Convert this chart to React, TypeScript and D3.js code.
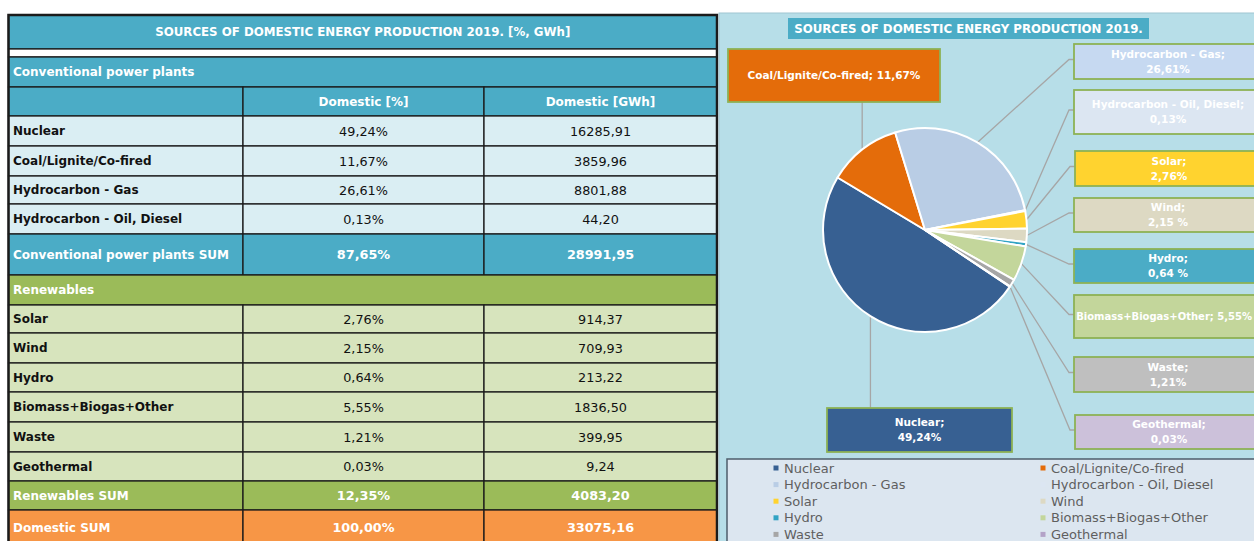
import React from "react";
import * as d3 from "d3";

// ---------------- DATA ----------------
const tableTitle = "SOURCES OF DOMESTIC ENERGY PRODUCTION 2019. [%, GWh]";
const chartTitle = "SOURCES OF DOMESTIC ENERGY PRODUCTION 2019.";
const columnHeaders = ["Domestic [%]", "Domestic [GWh]"];

const conventionalTitle = "Conventional power plants";
const conventionalNames = ["Nuclear", "Coal/Lignite/Co-fired", "Hydrocarbon - Gas", "Hydrocarbon - Oil, Diesel"];
const conventionalPct = [49.24, 11.67, 26.61, 0.13];
const conventionalGWh = [16285.91, 3859.96, 8801.88, 44.2];

const renewableTitle = "Renewables";
const renewableNames = ["Solar", "Wind", "Hydro", "Biomass+Biogas+Other", "Waste", "Geothermal"];
const renewablePct = [2.76, 2.15, 0.64, 5.55, 1.21, 0.03];
const renewableGWh = [914.37, 709.93, 213.22, 1836.5, 399.95, 9.24];

const sumLabels = ["Conventional power plants SUM", "Renewables SUM", "Domestic SUM"];
const sumPct = [87.65, 12.35, 100.0];
const sumGWh = [28991.95, 4083.2, 33075.16];

// pie labels: a space before "%" in some of the original labels
const pctSpaced = [false, false, false, false, false, true, true, false, false, false];
const labelOneLine = [false, true, false, false, false, false, false, true, false, false];

// ---------------- STYLE / LAYOUT ----------------
const FONT = "'DejaVu Sans', Verdana, sans-serif";
const C_BLUE = "#4BACC6";
const C_LBLUE = "#DAEEF3";
const C_GREEN = "#9BBB59";
const C_LGREEN = "#D7E4BD";
const C_ORANGE = "#F79646";
const C_LINE = "#1b1b1b";

const sliceColors = ["#376092", "#E46C0A", "#B9CDE5", "#DCE6F2", "#FFD32F", "#DDD9C3", "#31A3C4", "#C3D69B", "#A6A6A6", "#B3A2C7"];
const boxColors = ["#376092", "#E46C0A", "#C6D9F1", "#DCE6F2", "#FFD32F", "#DDD9C3", "#4BACC6", "#C3D69B", "#BFBFBF", "#CCC1DA"];

const rowHeights = [34, 8, 30, 29, 30, 30, 28, 30, 41, 30, 28, 30, 29, 30, 30, 29, 29, 35];
const TABLE_TOP = 15;
const colX = [8.5, 243, 484, 717];

// label box layout (by slice index)
const labelBoxes = [
  { x: 827, y: 408, w: 185, h: 44 },
  { x: 728, y: 49, w: 212, h: 53 },
  { x: 1074, y: 44, w: 188, h: 35 },
  { x: 1074, y: 90, w: 188, h: 44 },
  { x: 1075, y: 151, w: 188, h: 35 },
  { x: 1074, y: 198, w: 188, h: 34 },
  { x: 1074, y: 249, w: 188, h: 34 },
  { x: 1074, y: 295, w: 188, h: 43 },
  { x: 1074, y: 357, w: 188, h: 35 },
  { x: 1075, y: 415, w: 188, h: 34 },
];

const fmt2 = (v: number) => d3.format(".2f")(v).replace(".", ",");

type Row = {
  kind: "title" | "gap" | "section" | "header" | "item" | "sum";
  label?: string;
  pct?: number;
  gwh?: number;
  fill?: string;
};

export default function App() {
  const rows: Row[] = [
    { kind: "title", label: tableTitle, fill: C_BLUE },
    { kind: "gap", fill: "#ffffff" },
    { kind: "section", label: conventionalTitle, fill: C_BLUE },
    { kind: "header", fill: C_BLUE },
    ...conventionalNames.map((n, i) => ({ kind: "item" as const, label: n, pct: conventionalPct[i], gwh: conventionalGWh[i], fill: C_LBLUE })),
    { kind: "sum", label: sumLabels[0], pct: sumPct[0], gwh: sumGWh[0], fill: C_BLUE },
    { kind: "section", label: renewableTitle, fill: C_GREEN },
    ...renewableNames.map((n, i) => ({ kind: "item" as const, label: n, pct: renewablePct[i], gwh: renewableGWh[i], fill: C_LGREEN })),
    { kind: "sum", label: sumLabels[1], pct: sumPct[1], gwh: sumGWh[1], fill: C_GREEN },
    { kind: "sum", label: sumLabels[2], pct: sumPct[2], gwh: sumGWh[2], fill: C_ORANGE },
  ];
  const rowY = [TABLE_TOP, ...Array.from(d3.cumsum(rowHeights)).map((v) => TABLE_TOP + v)];
  const tableW = colX[3] - colX[0];

  // pie
  const names = [...conventionalNames, ...renewableNames];
  const pcts = [...conventionalPct, ...renewablePct];
  const cx = 925, cy = 230, R = 102;
  const start = (123.7 * Math.PI) / 180;
  const pie = d3.pie<number>().sort(null).startAngle(start).endAngle(start + 2 * Math.PI);
  const arcs = pie(pcts);
  const arcGen = d3.arc<d3.PieArcDatum<number>>().innerRadius(0).outerRadius(R);

  const legendY = d3.scaleLinear().domain([0, 4]).range([468, 534.4]);
  const legendX = d3.scaleOrdinal<number, number>().domain([0, 1]).range([776, 1043]);

  return (
    <svg width={1254} height={541} style={{ position: "absolute", left: 0, top: 0 }} fontFamily={FONT}>
      <rect x={0} y={0} width={1254} height={541} fill="#ffffff" />

      {/* ---------- TABLE ---------- */}
      {rows.map((r, i) => {
        const y = rowY[i];
        const h = rowHeights[i];
        const mid = y + h / 2;
        const merged = r.kind === "title" || r.kind === "gap" || r.kind === "section";
        const isWhite = r.kind !== "item";
        const txtCol = isWhite ? "#ffffff" : "#111111";
        return (
          <g key={i}>
            {merged ? (
              <rect x={colX[0]} y={y} width={tableW} height={h} fill={r.fill} stroke={C_LINE} strokeWidth={1.3} />
            ) : (
              [0, 1, 2].map((c) => (
                <rect key={c} x={colX[c]} y={y} width={colX[c + 1] - colX[c]} height={h} fill={r.fill} stroke={C_LINE} strokeWidth={1.3} />
              ))
            )}
            {r.kind === "title" && (
              <text x={(colX[0] + colX[3]) / 2} y={mid} dy="0.36em" textAnchor="middle" fill="#fff" fontWeight="bold" fontSize={11.8}>
                {r.label}
              </text>
            )}
            {(r.kind === "section" || r.kind === "item" || r.kind === "sum") && (
              <text x={13} y={mid} dy="0.36em" fill={txtCol} fontWeight="bold" fontSize={12}>
                {r.label}
              </text>
            )}
            {r.kind === "header" &&
              columnHeaders.map((t, c) => (
                <text key={c} x={(colX[c + 1] + colX[c + 2]) / 2} y={mid} dy="0.36em" textAnchor="middle" fill="#fff" fontWeight="bold" fontSize={12}>
                  {t}
                </text>
              ))}
            {(r.kind === "item" || r.kind === "sum") && (
              <>
                <text x={(colX[1] + colX[2]) / 2} y={mid} dy="0.36em" textAnchor="middle" fill={txtCol} fontWeight={r.kind === "sum" ? "bold" : "normal"} fontSize={12.8}>
                  {fmt2(r.pct!) + "%"}
                </text>
                <text x={(colX[2] + colX[3]) / 2} y={mid} dy="0.36em" textAnchor="middle" fill={txtCol} fontWeight={r.kind === "sum" ? "bold" : "normal"} fontSize={12.8}>
                  {fmt2(r.gwh!)}
                </text>
              </>
            )}
          </g>
        );
      })}
      <rect x={colX[0]} y={TABLE_TOP} width={tableW} height={560} fill="none" stroke={C_LINE} strokeWidth={2.5} />

      {/* ---------- PIE PANEL ---------- */}
      <rect x={719} y={13} width={540} height={540} fill="#B7DEE8" stroke="#9FC6D1" strokeWidth={1} />
      <rect x={788} y={18} width={361} height={21} fill={C_BLUE} />
      <text x={968.5} y={28.5} dy="0.36em" textAnchor="middle" fill="#fff" fontWeight="bold" fontSize={11.8}>
        {chartTitle}
      </text>

      {/* leader lines */}
      {arcs.map((a, i) => {
        const m = (a.startAngle + a.endAngle) / 2;
        const ax = cx + R * Math.sin(m);
        const ay = cy - R * Math.cos(m);
        const b = labelBoxes[i];
        let d: string;
        if (i === 0) d = `M${ax},${ay}L${ax},${b.y}`;
        else if (i === 1) d = `M${ax},${ay}L${ax},${b.y + b.h}`;
        else {
          const by = b.y + b.h / 2 - 2;
          d = `M${ax},${ay}L${b.x - 5},${by}L${b.x},${by}`;
        }
        return <path key={i} d={d} fill="none" stroke="#A6A6A6" strokeWidth={1.3} />;
      })}

      {/* slices */}
      <g transform={`translate(${cx},${cy})`}>
        {arcs.map((a, i) => (
          <path key={i} d={arcGen(a) || ""} fill={sliceColors[i]} stroke="#ffffff" strokeWidth={2} strokeLinejoin="round" />
        ))}
      </g>

      {/* label boxes */}
      {arcs.map((a, i) => {
        const b = labelBoxes[i];
        const pctTxt = fmt2(pcts[i]) + (pctSpaced[i] ? " %" : "%");
        const bx = b.x + b.w / 2;
        const by = b.y + b.h / 2;
        const oneLineFits = b.x + b.w <= 1254;
        return (
          <g key={i}>
            <rect x={b.x} y={b.y} width={b.w} height={b.h} fill={boxColors[i]} stroke="#8DB255" strokeWidth={1.8} />
            {labelOneLine[i] ? (
              oneLineFits ? (
                <text x={bx} y={by} dy="0.36em" textAnchor="middle" fill="#fff" fontWeight="bold" fontSize={10.5}>
                  {names[i] + "; " + pctTxt}
                </text>
              ) : (
                <text x={1252} y={by} dy="0.36em" textAnchor="end" fill="#fff" fontWeight="bold" fontSize={10}>
                  {names[i] + "; " + pctTxt}
                </text>
              )
            ) : (
              <>
                <text x={bx} y={by - 7.5} dy="0.36em" textAnchor="middle" fill="#fff" fontWeight="bold" fontSize={10.5}>
                  {names[i] + ";"}
                </text>
                <text x={bx} y={by + 7.5} dy="0.36em" textAnchor="middle" fill="#fff" fontWeight="bold" fontSize={10.5}>
                  {pctTxt}
                </text>
              </>
            )}
          </g>
        );
      })}

      {/* legend */}
      <rect x={727} y={459} width={540} height={90} fill="#DCE6F0" stroke="#4F5D6B" strokeWidth={1.5} />
      {names.map((n, i) => {
        const col = i % 2;
        const row = Math.floor(i / 2);
        const x = legendX(col);
        const y = legendY(row);
        return (
          <g key={i}>
            <rect x={x - 2.5} y={y - 2.5} width={5} height={5} fill={sliceColors[i]} />
            <text x={x + 8} y={y} dy="0.36em" fill="#5f5f5f" fontSize={13}>
              {n}
            </text>
          </g>
        );
      })}
    </svg>
  );
}
